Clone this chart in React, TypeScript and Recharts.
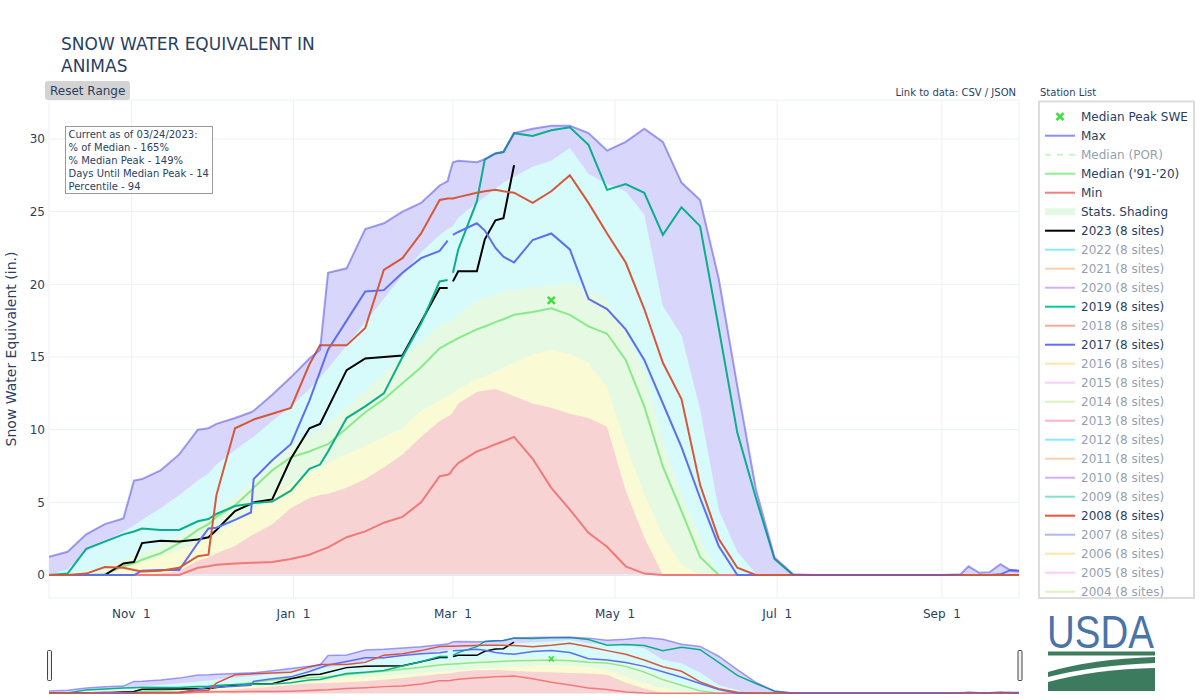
import { ComposedChart, Area, Line, XAxis, YAxis, CartesianGrid, ReferenceDot, ReferenceLine } from 'recharts';

const FONT = '"DejaVu Sans", Verdana, Arial, sans-serif';
const INK = '#2a3f5f';

// day of water year (0 = Oct 1, leap base year so Mar 1 = 152)
const days = [0, 7, 14, 21, 28, 32, 35, 42, 49, 56, 60, 63, 70, 76, 77, 84, 91, 98, 102, 105, 112, 119, 126, 133, 140, 147, 150, 151, 152, 154, 161, 164, 168, 171, 175,
  182, 189, 196, 203, 210, 217, 224, 231, 238, 245, 252, 259, 266, 273, 280, 287, 294, 301, 308, 315, 322, 329, 336, 343, 346, 350, 354, 358, 362, 365];

const maxSwe = [1.25, 1.6, 2.8, 3.5, 3.9, 6.5, 6.6, 7.2, 8.3, 10.0, 10.1, 10.4, 10.8, 11.2, 11.3, 12.4, 13.6, 14.9, 15.5, 20.8, 21.1, 23.8, 24.2, 25.0, 25.6, 26.8, 27.1, 27.8, 28.4, 28.5, 28.4, 28.6, 29.0, 29.1, 30.4,
  30.7, 30.9, 30.9, 30.4, 29.2, 29.8, 30.7, 29.8, 27.0, 25.8, 20.4, 13.0, 5.9, 1.2, 0.05, 0, 0, 0, 0, 0, 0, 0, 0, 0.05, 0.6, 0.15, 0.2, 0.75, 0.3, 0.25];
const pct90 = [0, 0.4, 1.6, 2.3, 3.0, 3.4, 3.8, 4.6, 5.5, 6.5, 7.0, 7.6, 8.6, 9.4, 9.5, 10.6, 11.6, 12.8, 13.6, 14.2, 15.8, 17.4, 19.0, 20.6, 22.2, 23.4, 23.8, 23.9, 24.0, 24.6, 25.6, 26.0, 26.6, 27.0, 27.4,
  28.1, 28.5, 29.4, 27.6, 26.9, 26.4, 24.8, 18.5, 16.5, 11.4, 4.5, 1.6, 0.1, 0, 0, 0, 0, 0, 0, 0, 0, 0, 0, 0, 0, 0, 0, 0, 0, 0];
const pct70 = [0, 0, 0.3, 0.6, 1.1, 1.3, 1.6, 2.1, 2.7, 3.4, 3.8, 4.3, 5.4, 6.4, 6.6, 7.8, 8.9, 9.6, 10.0, 10.4, 11.5, 12.7, 13.8, 15.0, 16.0, 17.2, 17.4, 17.5, 17.6, 18.0, 18.9, 19.1, 19.3, 19.5, 19.6,
  19.8, 19.9, 20.1, 19.6, 18.9, 16.8, 14.0, 9.3, 5.5, 2.6, 0, 0, 0, 0, 0, 0, 0, 0, 0, 0, 0, 0, 0, 0, 0, 0, 0, 0, 0, 0];
const pct30 = [0, 0, 0, 0.2, 0.5, 0.7, 0.9, 1.3, 1.7, 2.2, 2.5, 2.8, 3.6, 4.4, 4.5, 5.4, 6.3, 7.0, 7.4, 7.7, 8.3, 8.9, 9.5, 10.1, 11.3, 12.0, 12.3, 12.4, 12.5, 12.8, 13.5, 13.7, 14.0, 14.3, 14.6,
  15.2, 15.5, 15.2, 14.6, 12.9, 9.0, 5.6, 2.7, 0.7, 0, 0, 0, 0, 0, 0, 0, 0, 0, 0, 0, 0, 0, 0, 0, 0, 0, 0, 0, 0, 0];
const pct10 = [0, 0, 0, 0, 0, 0, 0, 0.1, 0.3, 1.0, 1.2, 1.5, 2.0, 2.7, 2.8, 3.5, 4.6, 5.3, 5.5, 5.6, 6.0, 6.6, 7.4, 8.3, 9.5, 10.6, 10.9, 11.0, 11.2, 11.8, 12.6, 12.7, 12.8, 12.6, 12.3,
  11.8, 11.5, 11.1, 10.8, 10.2, 5.8, 2.6, 0, 0, 0, 0, 0, 0, 0, 0, 0, 0, 0, 0, 0, 0, 0, 0, 0, 0, 0, 0, 0, 0, 0];
const minSwe = [0, 0, 0, 0, 0, 0, 0, 0, 0, 0.5, 0.6, 0.7, 0.8, 0.85, 0.85, 0.9, 1.1, 1.4, 1.7, 1.9, 2.6, 3.0, 3.6, 4.0, 5.0, 6.8, 6.9, 7.0, 7.3, 7.7, 8.5, 8.7, 9.0, 9.2, 9.5,
  8.0, 6.0, 4.5, 2.9, 1.95, 0.6, 0.1, 0, 0, 0, 0, 0, 0, 0, 0, 0, 0, 0, 0, 0, 0, 0, 0, 0, 0, 0, 0, 0, 0, 0];
const median = [0, 0, 0, 0.05, 0.6, 0.8, 1.05, 1.5, 2.2, 3.1, 3.5, 4.0, 4.8, 5.8, 6.0, 7.2, 8.1, 8.5, 8.8, 9.0, 10.1, 11.2, 12.1, 13.2, 14.3, 15.6, 15.9, 16.0, 16.1, 16.3, 16.9, 17.1, 17.4, 17.6, 17.9,
  18.1, 18.35, 17.9, 17.1, 16.6, 14.8, 11.6, 7.45, 4.4, 1.25, 0, 0, 0, 0, 0, 0, 0, 0, 0, 0, 0, 0, 0, 0, 0, 0, 0, 0, 0, 0];
const wy2023 = [0, 0, 0, 0, 0.8, 0.9, 2.2, 2.35, 2.3, 2.45, 2.6, 3.1, 4.4, 4.9, 5.0, 5.2, 8.0, 10.1, 10.4, 11.5, 14.1, 14.9, 15.0, 15.1, 17.4, 19.75, 19.75, null, 20.2, 20.9, 20.9, 23.1, 24.4, 24.55, 28.2,
  null, null, null, null, null, null, null, null, null, null, null, null, null, null, null, null, null, null, null, null, null, null, null, null, null, null, null, null, null, null];
const wy2019 = [0, 0.1, 1.8, 2.3, 2.8, 3.0, 3.2, 3.1, 3.1, 3.7, 3.85, 4.2, 4.75, 4.9, 4.95, 5.05, 5.8, 7.3, 7.6, 8.5, 10.8, 11.6, 12.5, 15.0, 17.3, 20.2, 20.3, null, 20.8, 22.4, 25.7, 28.6, 29.0, 29.1, 30.4,
  30.2, 30.6, 30.8, 29.6, 26.5, 26.9, 26.3, 23.4, 25.3, 24.0, 17.0, 9.8, 5.3, 1.1, 0, 0, 0, 0, 0, 0, 0, 0, 0, 0, 0, 0, 0, 0, 0, 0];
const wy2017 = [0, 0, 0, 0, 0, 0, 0.3, 0.35, 0.35, 2.2, 3.2, 3.25, 3.8, 4.3, 6.6, 7.9, 9.0, 12.0, 14.0, 15.5, 17.5, 19.5, 19.6, 20.8, 21.8, 22.3, 23.0, null, 23.4, 23.6, 24.2, 23.7, 22.5, 21.9, 21.5,
  23.05, 23.5, 22.4, 19.0, 18.3, 16.9, 14.8, 11.8, 8.8, 5.3, 2.0, 0, 0, 0, 0, 0, 0, 0, 0, 0, 0, 0, 0, 0, 0, 0, 0, 0.05, 0.35, 0.3];
const wy2008 = [0, 0, 0.1, 0.55, 0.5, 0.35, 0.25, 0.3, 0.5, 1.3, 1.4, 5.5, 10.1, 10.6, 10.7, 11.1, 11.5, 14.5, 15.8, 15.8, 15.8, 17.0, 21.0, 21.8, 23.5, 25.8, 25.9, 25.9, 25.9, 26.0, 26.3, 26.4, 26.5, 26.4, 26.3,
  25.6, 26.4, 27.5, 25.6, 23.5, 21.5, 18.3, 14.6, 12.1, 6.2, 2.5, 0.5, 0, 0, 0, 0, 0, 0, 0, 0, 0, 0, 0, 0, 0, 0, 0, 0, 0, 0];

const medianPeakDay = 189;
const medianPeakSwe = 18.9;

const xTicks = [31, 92, 152, 213, 274, 336];
const xTickLabels = ['Nov\u00a0\u00a01', 'Jan\u00a0\u00a01', 'Mar\u00a0\u00a01', 'May\u00a0\u00a01', 'Jul\u00a0\u00a01', 'Sep\u00a0\u00a01'];
const yTicks = [0, 5, 10, 15, 20, 25, 30];
const yDomain = [-1.58, 32.68];

const statsLines = [
  'Current as of 03/24/2023:',
  '% of Median - 165%',
  '% Median Peak - 149%',
  'Days Until Median Peak - 14',
  'Percentile - 94',
];

const legendItems = [
  { name: 'Median Peak SWE', kind: 'marker', color: '#3fe03f', on: true },
  { name: 'Max', kind: 'line', color: '#8f8cf3', on: true },
  { name: 'Median (POR)', kind: 'dash', color: '#90ee90', on: false },
  { name: "Median ('91-'20)", kind: 'line', color: '#90ee90', on: true },
  { name: 'Min', kind: 'line', color: '#f08080', on: true },
  { name: 'Stats. Shading', kind: 'rect', color: '#e4f9e4', on: true },
  { name: '2023 (8 sites)', kind: 'line', color: '#000000', on: true },
  { name: '2022 (8 sites)', kind: 'line', color: '#19d3f3', on: false },
  { name: '2021 (8 sites)', kind: 'line', color: '#ffa15a', on: false },
  { name: '2020 (8 sites)', kind: 'line', color: '#ab63fa', on: false },
  { name: '2019 (8 sites)', kind: 'line', color: '#00cc96', on: true },
  { name: '2018 (8 sites)', kind: 'line', color: '#ef553b', on: false },
  { name: '2017 (8 sites)', kind: 'line', color: '#636efa', on: true },
  { name: '2016 (8 sites)', kind: 'line', color: '#fecb52', on: false },
  { name: '2015 (8 sites)', kind: 'line', color: '#ff97ff', on: false },
  { name: '2014 (8 sites)', kind: 'line', color: '#b6e880', on: false },
  { name: '2013 (8 sites)', kind: 'line', color: '#ff6692', on: false },
  { name: '2012 (8 sites)', kind: 'line', color: '#19d3f3', on: false },
  { name: '2011 (8 sites)', kind: 'line', color: '#ffa15a', on: false },
  { name: '2010 (8 sites)', kind: 'line', color: '#ab63fa', on: false },
  { name: '2009 (8 sites)', kind: 'line', color: '#00cc96', on: false },
  { name: '2008 (8 sites)', kind: 'line', color: '#ef553b', on: true },
  { name: '2007 (8 sites)', kind: 'line', color: '#636efa', on: false },
  { name: '2006 (8 sites)', kind: 'line', color: '#fecb52', on: false },
  { name: '2005 (8 sites)', kind: 'line', color: '#ff97ff', on: false },
  { name: '2004 (8 sites)', kind: 'line', color: '#b6e880', on: false },
];

const rows = days.map((day, i) => ({
  day,
  max: maxSwe[i],
  p90: pct90[i],
  p70: pct70[i],
  p30: pct30[i],
  p10: pct10[i],
  min: minSwe[i],
  median: median[i],
  y2023: wy2023[i],
  y2019: wy2019[i],
  y2017: wy2017[i],
  y2008: wy2008[i],
}));

const shading = [
  { key: 'max', fill: '#d8d6fa' },
  { key: 'p90', fill: '#d7fbfa' },
  { key: 'p70', fill: '#e6f9e3' },
  { key: 'p30', fill: '#fafad5' },
  { key: 'p10', fill: '#f8d3d3' },
];

const lines = [
  { key: 'median', color: '#88ea88' },
  { key: 'min', color: '#f07a7a' },
  { key: 'y2023', color: '#000000' },
  { key: 'y2019', color: '#0aae8c' },
  { key: 'y2017', color: '#5c6ff0' },
  { key: 'y2008', color: '#d6583c' },
];

const XMark = ({ cx, cy, s }: any) => {
  if (cx == null || cy == null) return <g />;
  return (
    <g stroke="#3fe03f" strokeWidth={s > 3 ? 2.6 : 1.6}>
      <line x1={cx - s} y1={cy - s} x2={cx + s} y2={cy + s} />
      <line x1={cx - s} y1={cy + s} x2={cx + s} y2={cy - s} />
    </g>
  );
};

function seriesFor(width: number, markSize: number) {
  return [
    ...shading.map(s => (
      <Area key={'a' + s.key} type="linear" dataKey={s.key} baseValue={0} fill={s.fill} fillOpacity={1}
        stroke="none" dot={false} activeDot={false} isAnimationActive={false} />
    )),
    ...lines.map(l => (
      <Line key={'l' + l.key} type="linear" dataKey={l.key} stroke={l.color} strokeWidth={width}
        dot={false} activeDot={false} isAnimationActive={false} />
    )),
    <Line key="lmax" type="linear" dataKey="max" stroke="#5550ea" strokeOpacity={0.55} strokeWidth={width}
      dot={false} activeDot={false} isAnimationActive={false} />,
    <ReferenceDot key="peak" x={medianPeakDay} y={medianPeakSwe} r={4}
      shape={(p: any) => <XMark cx={p.cx} cy={p.cy} s={markSize} />} />,
  ];
}

const App = () => {
  return (
    <div style={{ position: 'absolute', left: 0, top: 0, width: 1200, height: 700, background: '#fff', overflow: 'hidden', fontFamily: FONT }}>
      <div style={{ position: 'absolute', left: 0, top: 0 }}>
        <ComposedChart width={1030} height={700} data={rows} margin={{ top: 100, right: 11, bottom: 72, left: 0 }}>
          <CartesianGrid stroke="#ebf0f8" strokeWidth={1} />
          <XAxis type="number" dataKey="day" domain={[0, 365]} allowDataOverflow ticks={xTicks}
            tickFormatter={(v: number) => xTickLabels[xTicks.indexOf(v)]} axisLine={false} tickLine={false}
            tickSize={0} tickMargin={11} height={30} interval={0}
            tick={{ fontSize: 12, fill: INK, fontFamily: FONT }} />
          <YAxis type="number" domain={yDomain} allowDataOverflow ticks={yTicks} axisLine={false} tickLine={false}
            tickSize={0} tickMargin={4} width={49} interval={0}
            tick={{ fontSize: 12, fill: INK, fontFamily: FONT }} />
          <ReferenceLine y={0} stroke="#e6eaf2" strokeWidth={2} />
          {seriesFor(2, 3.5)}
        </ComposedChart>
      </div>

      <div style={{ position: 'absolute', left: 49, top: 634 }}>
        <ComposedChart width={970} height={62} data={rows} margin={{ top: 0, right: 0, bottom: 0, left: 0 }}>
          <XAxis type="number" dataKey="day" domain={[0, 365]} allowDataOverflow hide />
          <YAxis type="number" domain={yDomain} allowDataOverflow hide />
          {seriesFor(1.5, 2.5)}
        </ComposedChart>
      </div>

      <svg width={1200} height={700} style={{ position: 'absolute', left: 0, top: 0, pointerEvents: 'none' }} fontFamily={FONT}>
        <text x={61} y={50} fontSize={17} fill={INK}>SNOW WATER EQUIVALENT IN</text>
        <text x={61} y={72} fontSize={17} fill={INK}>ANIMAS</text>

        <rect x={45} y={81} width={85} height={19} rx={3} fill="#d3d3d3" />
        <text x={50} y={94.5} fontSize={12} fill={INK}>Reset Range</text>

        <text x={1016} y={95.5} fontSize={10} fill={INK} textAnchor="end">Link to data: CSV / JSON</text>
        <text x={1040} y={95.5} fontSize={10} fill={INK}>Station List</text>

        <rect x={65.5} y={126.5} width={147} height={67} fill="#fff" stroke="#9a9a9a" strokeWidth={1} />
        {statsLines.map((t, i) => (
          <text key={t} x={68.5} y={138.3 + i * 12.8} fontSize={10} fill={INK}>{t}</text>
        ))}

        <text transform="translate(16,349) rotate(-90)" fontSize={14} fill={INK} textAnchor="middle">Snow Water Equivalent (in.)</text>

        <rect x={1039} y={101.5} width={155} height={496.5} fill="none" stroke="#dcdcdc" strokeWidth={2} />
        {legendItems.map((it, i) => {
          const y = 116.7 + i * 19;
          const op = it.on ? 1 : 0.5;
          let sym = null;
          if (it.kind === 'marker') sym = <XMark cx={1060} cy={y} s={3.5} />;
          else if (it.kind === 'rect') sym = <rect x={1045} y={y - 3.5} width={30} height={7} fill={it.color} />;
          else sym = <line x1={1045} x2={1075} y1={y} y2={y} stroke={it.color} strokeWidth={2}
            strokeDasharray={it.kind === 'dash' ? '6,6' : undefined} />;
          return (
            <g key={it.name} opacity={op}>
              {sym}
              <text x={1081} y={y + 4.5} fontSize={12} fill={INK}>{it.name}</text>
            </g>
          );
        })}

        <rect x={47.5} y={650.5} width={4} height={30} rx={1} fill="#f2f2f2" stroke="#444" strokeWidth={1} />
        <rect x={1018} y={650.5} width={4} height={30} rx={1} fill="#f2f2f2" stroke="#444" strokeWidth={1} />

        <text x={1047} y={648} fontSize={46} fill="#4a74a7" fontFamily='"Liberation Sans Narrow", "Liberation Sans", Arial, sans-serif'
          textLength={107} lengthAdjust="spacingAndGlyphs">USDA</text>
        <rect x={1048} y={651.5} width={107} height={4} fill="#3d7b5e" />
        <path d="M1048,672 Q1092,659 1155,657 L1155,663 Q1096,665 1048,677 Z" fill="#3d7b5e" />
        <path d="M1048,682 Q1096,669 1155,668 L1155,691 L1048,691 Z" fill="#3d7b5e" />
      </svg>
    </div>
  );
};

export default App;
